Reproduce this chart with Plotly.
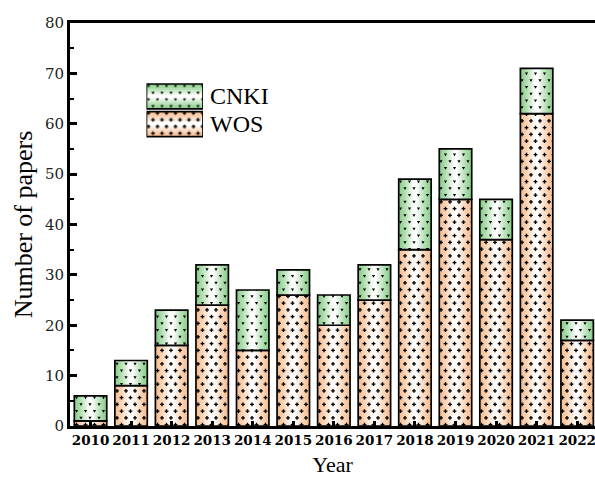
import plotly.graph_objects as go

# Publications per year by database
years = [2010, 2011, 2012, 2013, 2014, 2015, 2016, 2017, 2018, 2019, 2020, 2021, 2022]
wos = [1, 8, 16, 24, 15, 26, 20, 25, 35, 45, 37, 62, 17]
cnki = [5, 5, 7, 8, 12, 5, 6, 7, 14, 10, 8, 9, 4]
series_names = ["CNKI", "WOS"]

BAR_W = 0.8
ORANGE = (247, 190, 146)
GREEN = (140, 206, 140)
STEPS = 16
TILE = 27  # texture tile size in px: staggered rows, 4 rows x 3 glyphs


def lattice():
    pts = []
    for r in range(4):
        y = 3.4 + r * TILE / 4
        x0 = 2.0 if r % 2 == 0 else 6.5
        pts += [(x0 + c * 9, y) for c in range(3)]
    return pts


def plus_path(a=1.9, t=0.7):
    out = []
    for x, y in lattice():
        out.append(f"M{x-t:.2f},{y-a:.2f}H{x+t:.2f}V{y-t:.2f}H{x+a:.2f}V{y+t:.2f}"
                   f"H{x+t:.2f}V{y+a:.2f}H{x-t:.2f}V{y+t:.2f}H{x-a:.2f}V{y-t:.2f}"
                   f"H{x-t:.2f}Z")
    return "".join(out)


def tri_path(s=1.6):
    out = []
    for x, y in lattice():
        out.append(f"M{x-s:.2f},{y-s*0.7:.2f}L{x+s:.2f},{y-s*0.7:.2f}"
                   f"L{x:.2f},{y+s:.2f}Z")
    return "".join(out)


PLUS = plus_path()
TRI = tri_path()


def mix(c, t):
    """Blend colour c towards white by fraction t."""
    r, g, b = (round(v + (255 - v) * t) for v in c)
    return f"rgb({r},{g},{b})"


def gradient_bars(fig, x, y, base, width, color, glyph, orient="v",
                  xaxis="x", yaxis="y"):
    """Horizontally shaded bars (edges coloured, centre white) with a glyph texture."""
    kw = dict(x=x, y=y) if orient == "v" else dict(x=y, y=x)
    for k in range(STEPS):
        t = k / STEPS
        fig.add_trace(go.Bar(
            **kw, base=base, width=width * (1 - t), orientation=orient,
            marker=dict(color=mix(color, min(1.0, 1.15 * t ** 1.2)),
                        line=dict(width=0)),
            showlegend=False, hoverinfo="skip", xaxis=xaxis, yaxis=yaxis,
        ))
    fig.add_trace(go.Bar(
        **kw, base=base, width=width, orientation=orient,
        marker=dict(
            color="rgba(0,0,0,0)",
            line=dict(color="black", width=1.7),
            pattern=dict(path=glyph, fillmode="overlay", fgcolor="black",
                         fgopacity=1, size=TILE, solidity=1),
        ),
        showlegend=False, xaxis=xaxis, yaxis=yaxis,
    ))


fig = go.Figure()
gradient_bars(fig, years, wos, [0] * len(years), BAR_W, ORANGE, PLUS)
gradient_bars(fig, years, cnki, wos, BAR_W, GREEN, TRI)

# Legend patches drawn on a small inset axis
gradient_bars(fig, [1.5], [1], [0], 0.9, GREEN, TRI, orient="h",
              xaxis="x2", yaxis="y2")
gradient_bars(fig, [0.5], [1], [0], 0.9, ORANGE, PLUS, orient="h",
              xaxis="x2", yaxis="y2")

legend_font = dict(family="Liberation Serif", size=24, color="black")
for name, yy in zip(series_names, [1.5, 0.5]):
    fig.add_annotation(x=1, y=yy, xref="x2", yref="y2", text=name,
                       showarrow=False, xanchor="left", xshift=5,
                       font=legend_font)

serif = "DejaVu Serif"
fig.update_layout(
    width=595, height=477,
    margin=dict(l=70, r=0, t=23, b=51),
    barmode="overlay",
    plot_bgcolor="white", paper_bgcolor="white",
    showlegend=False,
    xaxis=dict(
        range=[2009.494, 2022.44],
        tickmode="array", tickvals=years, ticktext=[str(y) for y in years],
        ticks="inside", ticklen=5, tickwidth=2.5, tickcolor="black",
        showline=True, linewidth=3, linecolor="black", mirror=True,
        showgrid=False, zeroline=False, ticklabeloverflow="allow",
        tickfont=dict(family=serif, size=13.5, color="black", weight="bold"),
        title=dict(text="Year", standoff=13,
                   font=dict(family="Liberation Serif", size=22, color="black")),
    ),
    yaxis=dict(
        range=[0, 80], dtick=10,
        ticks="inside", ticklen=7, tickwidth=2.5, tickcolor="black",
        minor=dict(dtick=5, ticks="inside", ticklen=4, tickwidth=2,
                   tickcolor="black", showgrid=False),
        showline=True, linewidth=3, linecolor="black",
        showgrid=False, zeroline=False,
        tickfont=dict(family=serif, size=15, color="#222"),
        title=dict(text="Number of papers", standoff=5,
                   font=dict(family="Liberation Serif", size=26, color="black")),
    ),
    xaxis2=dict(domain=[0.1457, 0.2533], range=[0, 1], visible=False,
                anchor="y2"),
    yaxis2=dict(domain=[0.7146, 0.852], range=[0, 2], visible=False,
                anchor="x2"),
)

fig.write_html("out.html")
